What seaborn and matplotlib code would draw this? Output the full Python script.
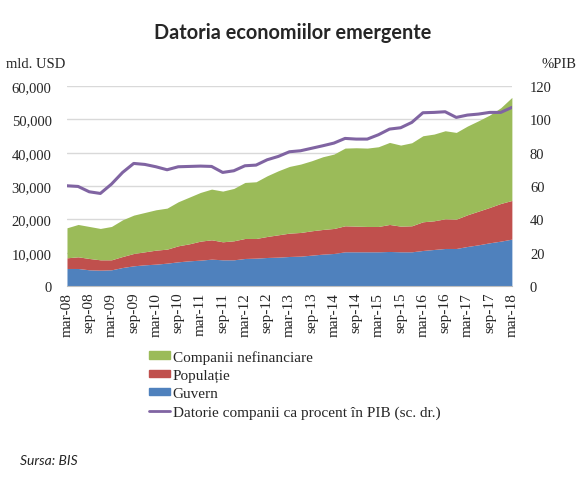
import numpy as np
import pandas as pd
import matplotlib
matplotlib.use('Agg')
import matplotlib.pyplot as plt
import seaborn as sns
from matplotlib.patches import Patch
from matplotlib.lines import Line2D

# Quarterly data, mar-08 .. mar-18
quarters = ['mar-08', 'iun-08', 'sep-08', 'dec-08', 'mar-09', 'iun-09', 'sep-09', 'dec-09',
            'mar-10', 'iun-10', 'sep-10', 'dec-10', 'mar-11', 'iun-11', 'sep-11', 'dec-11',
            'mar-12', 'iun-12', 'sep-12', 'dec-12', 'mar-13', 'iun-13', 'sep-13', 'dec-13',
            'mar-14', 'iun-14', 'sep-14', 'dec-14', 'mar-15', 'iun-15', 'sep-15', 'dec-15',
            'mar-16', 'iun-16', 'sep-16', 'dec-16', 'mar-17', 'iun-17', 'sep-17', 'dec-17',
            'mar-18']

# mld. USD
guvern = [5300, 5300, 4900, 4800, 4900, 5600, 6100, 6400, 6600, 6900,
          7300, 7600, 7800, 8100, 7900, 7900, 8300, 8400, 8600, 8700,
          8900, 9000, 9300, 9600, 9800, 10300, 10300, 10300, 10300, 10400,
          10300, 10300, 10700, 11000, 11300, 11300, 11900, 12400, 13000, 13500,
          14100]
populatie = [3200, 3500, 3400, 3100, 3000, 3300, 3700, 3900, 4200, 4200,
             4800, 5100, 5700, 5800, 5400, 5700, 6000, 5900, 6300, 6700,
             7000, 7100, 7300, 7400, 7500, 7800, 7700, 7600, 7600, 8100,
             7700, 7800, 8600, 8600, 8900, 8800, 9500, 10100, 10600, 11300,
             11600]
companii = [9000, 9700, 9600, 9400, 10000, 11000, 11500, 11800, 12100, 12300,
            13200, 14000, 14600, 15200, 15200, 15700, 16800, 17000, 18200, 19200,
            20000, 20500, 21000, 21800, 22300, 23300, 23500, 23500, 23900, 24600,
            24300, 24900, 25800, 26000, 26400, 26000, 26600, 27100, 27700, 28700,
            30900]
# % PIB (right axis)
companii_pib = [60.2, 59.8, 56.6, 55.6, 61.2, 68.2, 73.6, 73.0, 71.6, 69.8,
                71.6, 71.8, 72.0, 71.8, 68.2, 69.2, 72.2, 72.6, 75.8, 77.8,
                80.6, 81.2, 82.7, 84.2, 85.8, 88.6, 88.2, 88.2, 90.8, 94.2,
                95.0, 98.2, 104.0, 104.2, 104.6, 101.2, 102.6, 103.2, 104.2, 104.2,
                107.2]

labels = ['Companii nefinanciare', 'Populație', 'Guvern',
          'Datorie companii ca procent în PIB (sc. dr.)']
colors = ['#9BBB59', '#C0504D', '#4F81BD', '#8064A2']

df = pd.DataFrame({'q': quarters, 'Guvern': guvern, 'Populatie': populatie,
                   'Companii': companii, 'pib': companii_pib})
df['x'] = np.arange(len(df))

sns.set_style('white')
serif = ['Liberation Serif', 'DejaVu Serif']
plt.rcParams['font.family'] = serif

fig = plt.figure(figsize=(5.85, 4.81), dpi=100)
ax = fig.add_axes([0.1145, 0.403, 0.7605, 0.416])

# stacked areas
ax.stackplot(df['x'], df['Guvern'], df['Populatie'], df['Companii'],
             colors=[colors[2], colors[1], colors[0]], linewidth=0)
ax.set_xlim(0, len(df) - 1)
ax.set_ylim(0, 60000)
ax.set_yticks(np.arange(0, 60001, 10000))
ax.set_yticklabels([f'{v:,}' for v in range(0, 60001, 10000)], fontsize=10.5)
ax.yaxis.grid(True, color='#D9D9D9', linewidth=1)
ax.set_axisbelow(True)
ax.set_xticks(df['x'][::2])
ax.set_xticklabels(df['q'][::2], rotation=90, fontsize=11)
ax.tick_params(axis='x', length=0, pad=4)
ax.tick_params(axis='y', length=0, pad=11)
for s in ['top', 'left', 'right']:
    ax.spines[s].set_visible(False)
ax.spines['bottom'].set_color('#BFBFBF')

# right axis line
ax2 = ax.twinx()
sns.lineplot(data=df, x='x', y='pib', ax=ax2, color=colors[3], linewidth=2.2)
ax2.set_ylim(0, 120)
ax2.set_yticks(np.arange(0, 121, 20))
ax2.set_yticklabels([str(v) for v in range(0, 121, 20)], fontsize=10.5)
ax2.tick_params(axis='y', length=0, pad=13)
ax2.set_xlabel('')
ax2.set_ylabel('')
for s in ['top', 'left', 'right', 'bottom']:
    ax2.spines[s].set_visible(False)

fig.text(0.5, 0.932, 'Datoria economiilor emergente', ha='center', va='center',
         fontsize=14.3, fontweight='bold', family=['Lato', 'DejaVu Sans'])
fig.text(6 / 585, 1 - 64 / 481, 'mld. USD', ha='left', va='center', fontsize=10.5)
fig.text(576 / 585, 1 - 64 / 481, '%PIB', ha='right', va='center', fontsize=10.5)
fig.text(20 / 585, 1 - 461 / 481, 'Sursa: BIS', ha='left', va='center',
         fontsize=10, style='italic', family=['Lato', 'DejaVu Sans'])

handles = [Patch(color=colors[0]), Patch(color=colors[1]), Patch(color=colors[2]),
           Line2D([0], [0], color=colors[3], linewidth=2)]
fig.legend(handles, labels, loc='upper left', bbox_to_anchor=(149 / 585, 1 - 351 / 481),
           frameon=False, fontsize=11, handlelength=1.4, handleheight=0.4,
           handletextpad=0.15, labelspacing=0.33, borderaxespad=0, borderpad=0)

fig.savefig('out.png', dpi=100)
